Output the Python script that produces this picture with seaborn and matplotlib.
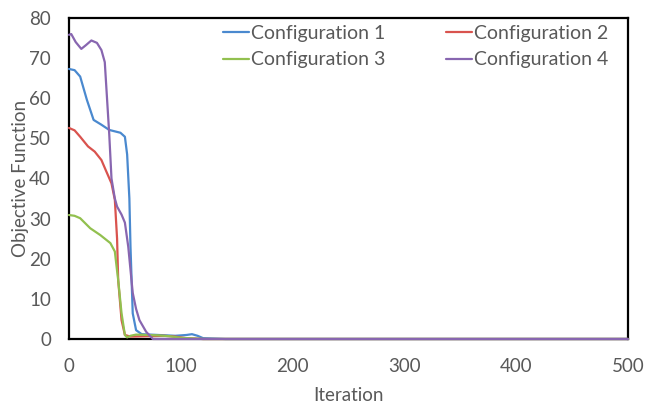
import matplotlib
matplotlib.use("Agg")
import matplotlib.pyplot as plt
import seaborn as sns
import pandas as pd

labels = ["Configuration 1", "Configuration 2", "Configuration 3", "Configuration 4"]
colors = ["#4A89CF", "#D9534E", "#92C04F", "#8866B0"]

it1 = [0, 5, 10, 16, 22, 29, 36, 46, 50, 52, 54, 55, 57, 60, 65, 80, 95, 105, 110, 115, 120, 140, 500]
v1 = [67.3, 67.0, 65.4, 59.6, 54.6, 53.4, 52.1, 51.4, 50.4, 46.0, 35.0, 23.0, 6.4, 2.2, 1.2, 1.0, 0.8, 1.0, 1.2, 0.8, 0.2, 0.0, 0.0]

it2 = [0, 5, 10, 17, 23, 29, 33, 38, 41, 43, 44, 47, 50, 55, 70, 85, 95, 105, 120, 500]
v2 = [52.6, 52.0, 50.4, 48.0, 46.7, 44.6, 42.0, 38.8, 34.7, 25.0, 14.7, 4.7, 1.0, 0.6, 0.7, 0.8, 0.6, 0.2, 0.0, 0.0]

it3 = [0, 5, 10, 19, 28, 37, 41, 43, 44, 47, 50, 52, 55, 60, 70, 80, 90, 100, 120, 500]
v3 = [30.9, 30.7, 30.1, 27.6, 25.9, 23.9, 21.8, 17.0, 14.7, 6.4, 1.0, 0.4, 0.8, 1.1, 1.0, 0.9, 0.7, 0.3, 0.0, 0.0]

it4 = [0, 2, 6, 11, 15, 20, 25, 29, 32, 36, 38, 41, 43, 47, 50, 53, 57, 60, 63, 69, 75, 500]
v4 = [75.8, 76.0, 74.0, 72.3, 73.2, 74.4, 73.8, 72.0, 69.0, 51.0, 40.0, 35.0, 33.0, 31.0, 29.0, 23.0, 11.5, 7.5, 4.7, 1.8, 0.0, 0.0]

frames = []
for lab, xs, ys in zip(labels, [it1, it2, it3, it4], [v1, v2, v3, v4]):
    frames.append(pd.DataFrame({"Iteration": xs, "Objective Function": ys, "Config": lab}))
df = pd.concat(frames, ignore_index=True)

sns.set_theme(style="white")
plt.rcParams["font.family"] = ["Lato", "DejaVu Sans"]
text_color = "#595959"
fs = 13.5

fig = plt.figure(figsize=(6.46, 4.03), dpi=100)
ax = fig.add_axes([69/646, 1-339/403, (628-69)/646, (339-18)/403])

sns.lineplot(data=df, x="Iteration", y="Objective Function", hue="Config",
             palette=dict(zip(labels, colors)), estimator=None, sort=False,
             linewidth=1.6, ax=ax, clip_on=False, zorder=3)

ax.set_xlim(0, 500)
ax.set_ylim(0, 80)
ax.set_xticks([0, 100, 200, 300, 400, 500])
ax.set_yticks(range(0, 81, 10))
ax.tick_params(axis="both", length=0, labelsize=fs, labelcolor=text_color)
ax.tick_params(axis="x", pad=14)
ax.tick_params(axis="y", pad=13)
ax.set_xlabel("Iteration", fontsize=fs, color=text_color, labelpad=8)
ax.set_ylabel("Objective Function", fontsize=fs, color=text_color, labelpad=0)
for sp in ax.spines.values():
    sp.set_visible(True)
    sp.set_color("black")
    sp.set_linewidth(1.6)
    sp.set_zorder(2)

handles, labs = ax.get_legend_handles_labels()
order = [0, 2, 1, 3]
leg = ax.legend([handles[i] for i in order], [labs[i] for i in order],
                ncol=2, frameon=False, loc="upper left",
                bbox_to_anchor=(0.244, 1.034), fontsize=14,
                handlelength=1.35, handletextpad=0.1, columnspacing=3.1,
                labelspacing=0.5)
for t in leg.get_texts():
    t.set_color(text_color)

fig.savefig("out.png", dpi=100)
